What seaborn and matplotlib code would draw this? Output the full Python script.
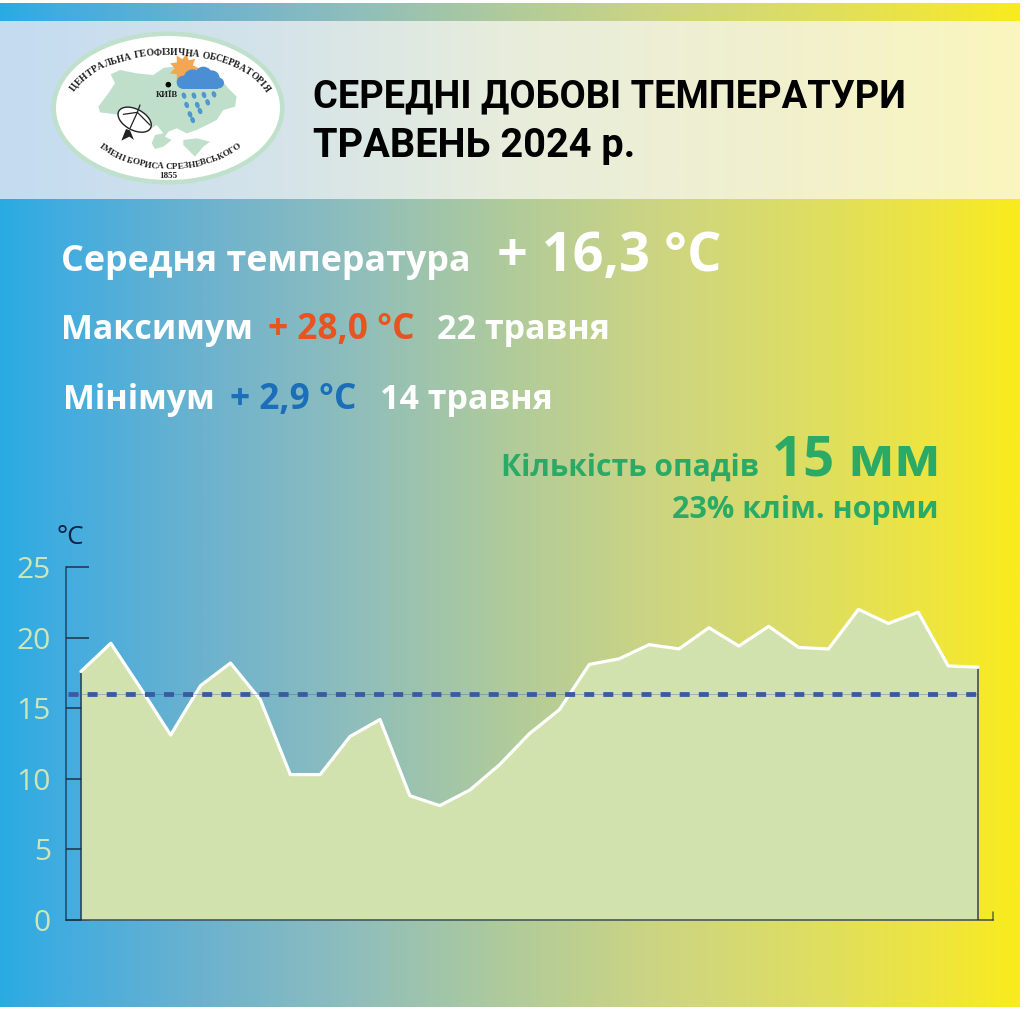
import numpy as np
import pandas as pd
import matplotlib
matplotlib.use("Agg")
import matplotlib.pyplot as plt
import seaborn as sns
from matplotlib.colors import LinearSegmentedColormap
from matplotlib.patches import Ellipse, Polygon, Rectangle, Circle
from matplotlib.textpath import TextPath
from matplotlib.font_manager import FontProperties

# Daily mean temperature, May 2024 (Kyiv)
days = list(range(1, 32))
daily_temp = [17.6, 19.6, 16.4, 13.1, 16.6, 18.2, 15.6, 10.3, 10.3, 13.0, 14.2,
              8.8, 8.1, 9.2, 11.0, 13.2, 14.9, 18.1, 18.5, 19.5, 19.2, 20.7,
              19.4, 20.8, 19.3, 19.2, 22.0, 21.0, 21.8, 18.0, 17.9]
climate_norm = 16.0
y_ticks = [0, 5, 10, 15, 20, 25]

title_lines = ["СЕРЕДНІ ДОБОВІ ТЕМПЕРАТУРИ", "ТРАВЕНЬ 2024 р."]

W, H, DPI = 1024, 1010, 100
PX = 72 / DPI  # points per pixel

sns.set_theme(style="white")
plt.rcParams["font.family"] = ["Open Sans", "DejaVu Sans"]

fig = plt.figure(figsize=(W / DPI, H / DPI), dpi=DPI, facecolor="white")

# Page layer in pixel coordinates: gradient, header band, logo, headline text
page = fig.add_axes([0, 0, 1, 1], zorder=0)

grad = LinearSegmentedColormap.from_list(
    "ua", [(0.0, "#29ABE2"), (0.05, "#3FACE0"), (0.2, "#6DB2CE"), (0.35, "#90BEBB"),
           (0.5, "#B0CB9B"), (0.65, "#CDD581"), (0.8, "#DEDE62"),
           (0.93, "#F0E63A"), (1.0, "#F9EC1C")])
band = LinearSegmentedColormap.from_list(
    "band", [(0.0, "#C4DBF1"), (0.25, "#D3E3EA"), (0.5, "#E8EDDC"),
             (0.75, "#F1F0CF"), (1.0, "#FBF6BE")])
page.imshow(np.linspace(0, 1, 512)[None, :], cmap=grad, aspect="auto",
            extent=[0, 1020, 1007, 3], zorder=0)
page.imshow(np.linspace(0, 1, 512)[None, :], cmap=band, aspect="auto",
            extent=[0, 1020, 199, 21], zorder=1)
page.set_xlim(0, W)
page.set_ylim(H, 0)
page.axis("off")


def label(x, y, s, size, color="white", weight="bold", family=None, **kw):
    """Text with its baseline anchored at pixel (x, y)."""
    opts = dict(fontsize=size * PX, color=color, fontweight=weight, va="baseline", zorder=5)
    if family:
        opts["family"] = family
    opts.update(kw)
    return page.text(x, y, s, **opts)


def arc_text(s, cx, cy, a, b, mid_deg, size, top=True):
    """Lay letters one by one along an ellipse, centred on mid_deg."""
    fp = FontProperties(family="Liberation Serif", weight="bold", size=size * PX)
    adv = [size * 0.27 if c == " " else TextPath((0, 0), c, prop=fp).get_extents().x1 * (1 / PX) * 1.03
           for c in s]
    total = sum(adv)
    t = np.radians(np.linspace(0, 180, 3601))[::-1]
    xs = cx + a * np.cos(t)
    ys = cy - b * np.sin(t) if top else cy + b * np.sin(t)
    arc = np.concatenate([[0], np.cumsum(np.hypot(np.diff(xs), np.diff(ys)))])
    mid = arc[np.argmin(abs(np.degrees(t) - mid_deg))]
    pos = mid - total / 2
    for ch, w in zip(s, adv):
        c = pos + w / 2
        k = min(max(np.searchsorted(arc, c), 1), len(arc) - 1)
        rot = np.degrees(np.arctan2(-(ys[k] - ys[k - 1]), xs[k] - xs[k - 1]))
        page.text(xs[k], ys[k], ch, fontsize=size * PX, family="Liberation Serif", fontweight="bold",
                  color="#222222", rotation=rot, rotation_mode="anchor", ha="center", va="baseline",
                  zorder=6)
        pos += w


def z(points):
    """Scale logo sketch units (1/3 px) to page pixels."""
    return [(40 + x / 3, 25 + y / 3) for x, y in points]


# Observatory emblem
page.add_patch(Ellipse((168, 108), 233, 153, fc="#BFE0CB", ec="none", zorder=2))
page.add_patch(Ellipse((168, 108), 224, 144, fc="white", ec="none", zorder=2))
ua = [(212, 148), (240, 135), (290, 145), (340, 150), (372, 128), (410, 125), (450, 130), (500, 140),
      (545, 165), (565, 190), (590, 215), (585, 245), (550, 255), (530, 285), (500, 300), (470, 315),
      (440, 325), (410, 310), (385, 320), (375, 335), (395, 345), (370, 365), (345, 372), (335, 355),
      (345, 330), (370, 325), (350, 300), (320, 320), (290, 300), (240, 270), (180, 262), (175, 245),
      (205, 205), (225, 175)]
crimea = [(430, 345), (470, 340), (510, 350), (490, 365), (465, 395), (445, 375), (430, 360)]
page.add_patch(Polygon(z(ua), fc="#BFDFCB", ec="none", zorder=3))
page.add_patch(Polygon(z(crimea), fc="#BFDFCB", ec="none", zorder=3))
ang = np.radians(np.arange(0, 360, 20))
rad = np.tile([44, 28], 9)
sun = list(zip(432 + rad * np.cos(ang), 130 + rad * np.sin(ang)))
page.add_patch(Polygon(z(sun), fc="#F3A653", ec="none", zorder=3))
for x, y, r in [(430, 172, 20), (458, 160, 27), (490, 152, 27), (515, 160, 24), (536, 174, 16)]:
    (px, py), = z([(x, y)])
    page.add_patch(Circle((px, py), r / 3, fc="#4A8FD3", ec="none", zorder=4))
page.add_patch(Rectangle((40 + 430 / 3, 25 + 165 / 3), 35, 9, fc="#4A8FD3", ec="none", zorder=4))
for x, y in [(432, 212), (462, 212), (492, 210), (522, 208), (440, 240), (472, 240), (503, 232),
             (450, 268), (480, 258), (458, 285)]:
    (px, py), = z([(x, y)])
    page.add_patch(Ellipse((px, py), 4.5, 6.5, angle=-20, fc="#4F97CF", ec="none", zorder=4))
(dx, dy), = z([(385, 179)])
page.add_patch(Circle((dx, dy), 2.8, fc="black", ec="none", zorder=4))
page.text(167, 97, "КИЇВ", fontsize=8.6 * PX, family="Liberation Serif", fontweight="bold",
          color="#222222", ha="center", va="baseline", zorder=6)
(ex, ey), = z([(284, 284)])
page.add_patch(Ellipse((ex, ey), 36, 21, angle=28, fc="white", ec="#222222", lw=1.0, zorder=4))
for p, q in [((250, 268), (292, 262)), ((292, 262), (330, 300)), ((292, 262), (270, 310)),
             ((292, 262), (300, 240))]:
    (x0, y0), (x1, y1) = z([p, q])
    page.plot([x0, x1], [y0, y1], color="#222222", lw=0.9, zorder=5)
page.add_patch(Polygon(z([(258, 312), (270, 316), (282, 345), (268, 335), (244, 347)]),
                       fc="#222222", ec="none", zorder=5))
arc_text("ЦЕНТРАЛЬНА ГЕОФІЗИЧНА ОБСЕРВАТОРІЯ", 170, 108, 100, 53, 90, 9.6, top=True)
arc_text("ІМЕНІ БОРИСА СРЕЗНЕВСЬКОГО", 170, 108, 92, 61, 90, 9.2, top=False)
page.text(168, 178, "1855", fontsize=9.2 * PX, family="Liberation Serif", fontweight="bold",
          color="#222222", ha="center", va="baseline", zorder=6)

# Heading
label(313, 107, title_lines[0], 38, color="black", family="Roboto")
label(313, 157, title_lines[1], 39.8, color="black", family="Roboto")

# Monthly summary
label(61, 271, "Середня температура", 35.8, family="Open Sans")
label(497, 271, "+ 16,3 °C", 54, family="Open Sans")
label(61, 339, "Максимум", 34, family="Open Sans")
label(268, 339, "+ 28,0 °C", 35.3, color="#E8531F", family="Open Sans")
label(437, 339, "22 травня", 34, family="Open Sans")
label(63, 409, "Мінімум", 34, family="Open Sans")
label(230, 409, "+ 2,9 °C", 35.3, color="#1B6FB8", family="Open Sans")
label(380, 409, "14 травня", 34, family="Open Sans")
label(501, 476, "Кількість опадів", 30, color="#2BAA66", family="Open Sans")
label(772, 476, "15 мм", 54.5, color="#2BAA66", family="Open Sans")
label(672, 518, "23% клім. норми", 30.5, color="#2BAA66", family="Open Sans")
label(57, 544, "°C", 26, color="#0B2240", weight="normal", family="Open Sans")

# Temperature chart
frame = pd.DataFrame({"day": days, "temp": daily_temp})
ax = fig.add_axes([66 / W, 1 - 920 / H, (993 - 66) / W, (920 - 567) / H], zorder=2)
ax.patch.set_alpha(0)
ax.fill_between(frame["day"], frame["temp"], 0, color="#D2E2AE", lw=0, zorder=2)
sns.lineplot(data=frame, x="day", y="temp", color="white", linewidth=3.2 * PX,
             ax=ax, zorder=4, errorbar=None)
edge = "#1C2F48"
ax.vlines([days[0], days[-1]], 0, [daily_temp[0], daily_temp[-1]], color=edge, lw=1.7 * PX,
          alpha=0.8, zorder=3)
ax.hlines(climate_norm, 0.57, days[-1], color="#3A5BA0", lw=1 * PX, alpha=0.35, zorder=5)
ax.plot([0.57, days[-1]], [climate_norm, climate_norm], color="#3A5BA0", lw=4.8 * PX,
        dashes=(10 / 4.8, 9.1 / 4.8), zorder=5, dash_capstyle="butt")
ax.set_xlim(0.5, 31.5)
ax.set_ylim(0, 25)
ax.set_xlabel("")
ax.set_ylabel("")
ax.set_xticks([])
ax.set_yticks(y_ticks)
ax.set_yticklabels([str(v) for v in y_ticks], fontsize=30 * PX, color="#CDE6B8", family="Open Sans")
ax.tick_params(axis="y", which="major", direction="in", length=23 * PX, width=1.5 * PX,
               color=edge, pad=15 * PX, left=True)
for t in ax.yaxis.get_ticklines():
    t.set_zorder(1)
for side in ["top", "right"]:
    ax.spines[side].set_visible(False)
for side in ["left", "bottom"]:
    ax.spines[side].set_color(edge)
    ax.spines[side].set_linewidth(1.5 * PX)
    ax.spines[side].set_alpha(0.85)
# End tick closing the day axis
ax.plot([31.5, 31.5], [0, 0.6], color=edge, lw=1.5 * PX, alpha=0.7, clip_on=False, zorder=5)

fig.savefig("out.png", dpi=DPI, facecolor="white")
